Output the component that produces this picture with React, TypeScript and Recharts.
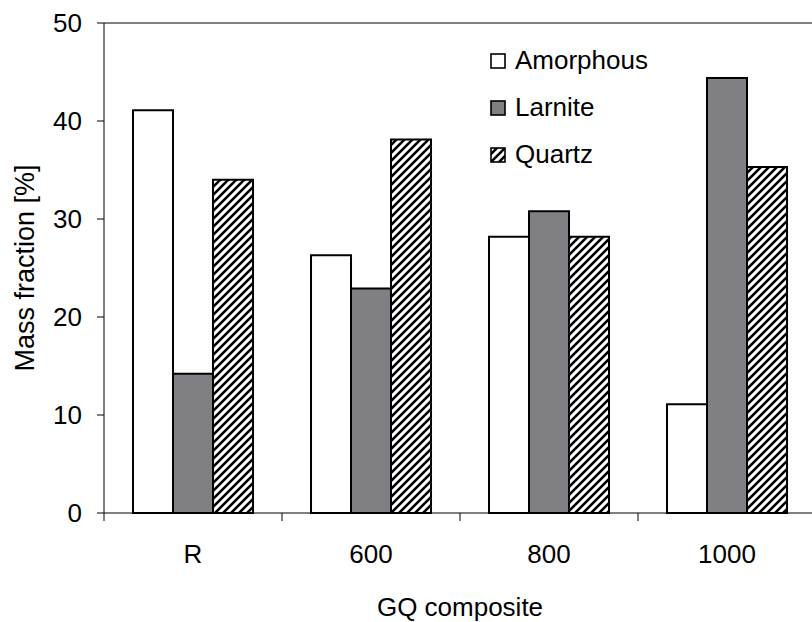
import React from "react";
import { Bar, BarChart, Label, Legend, ReferenceLine, XAxis, YAxis } from "recharts";

const categories = ["R", "600", "800", "1000"];
const amorphous = [41.1, 26.3, 28.2, 11.1];
const larnite = [14.2, 22.9, 30.8, 44.4];
const quartz = [34.0, 38.1, 28.2, 35.3];
const yTicks = [0, 10, 20, 30, 40, 50];

const FONT = "'Liberation Sans', Arial, sans-serif";

const series = [
  { key: "amorphous", name: "Amorphous", fill: "#ffffff" },
  { key: "larnite", name: "Larnite", fill: "#7f7f84" },
  { key: "quartz", name: "Quartz", fill: "url(#hatch)" },
];

const data = categories.map((c, i) => ({
  name: c,
  amorphous: amorphous[i],
  larnite: larnite[i],
  quartz: quartz[i],
}));

function HatchDefs() {
  return (
    <defs>
      <pattern id="hatch" patternUnits="userSpaceOnUse" width={8} height={8}>
        <rect width={8} height={8} fill="#fff" />
        <path d="M-2,2 L2,-2 M0,8 L8,0 M6,10 L10,6" stroke="#000" strokeWidth={2.6} />
      </pattern>
    </defs>
  );
}

// category label in the middle, tick mark on the left edge of each band
function CategoryTick(props: any) {
  const { x, y, payload, index, width } = props;
  const half = payload?.offset || width / categories.length / 2;
  const last = index === categories.length - 1;
  return (
    <g>
      <line x1={x - half} x2={x - half} y1={y} y2={y + 8} stroke="#000" />
      {last && <line x1={x + half} x2={x + half} y1={y} y2={y + 8} stroke="#000" />}
      <text x={x} y={y + 50} textAnchor="middle" fontSize={26} fontFamily={FONT} fill="#000">
        {payload.value}
      </text>
    </g>
  );
}

function LegendBox() {
  return (
    <div style={{ fontFamily: FONT, fontSize: 26, color: "#000" }}>
      {series.map((s) => (
        <div key={s.key} style={{ display: "flex", alignItems: "center", height: 47 }}>
          <svg width={16} height={16} style={{ marginRight: 9 }}>
            <rect x={1} y={1} width={14} height={14} fill={s.fill} stroke="#000" strokeWidth={1.6} />
          </svg>
          <span>{s.name}</span>
        </div>
      ))}
    </div>
  );
}

export default function App() {
  return (
    <div style={{ position: "absolute", left: 0, top: 0, width: 812, height: 622, overflow: "hidden", background: "#fff" }}>
      <BarChart
        width={830}
        height={622}
        data={data}
        margin={{ top: 23, right: 14, left: 0, bottom: 4 }}
        barCategoryGap="16.3%"
        barGap={0}
      >
        <HatchDefs />
        <XAxis
          dataKey="name"
          height={105}
          stroke="#000"
          tickLine={false}
          tickSize={0}
          tickMargin={0}
          tick={<CategoryTick />}
          interval={0}
        >
          <Label
            value="GQ composite"
            position="insideBottom"
            offset={2}
            style={{ fontSize: 26, fontFamily: FONT, fill: "#000" }}
          />
        </XAxis>
        <YAxis
          width={104}
          domain={[0, 50]}
          ticks={yTicks}
          stroke="#000"
          tickSize={7}
          tickMargin={15}
          tick={{ fontSize: 26, fontFamily: FONT, fill: "#000" }}
        >
          <Label
            value="Mass fraction [%]"
            angle={-90}
            position="insideLeft"
            offset={24}
            style={{ fontSize: 27, fontFamily: FONT, fill: "#000", textAnchor: "middle" }}
          />
        </YAxis>
        <ReferenceLine y={50} stroke="#808080" strokeWidth={2} />
        <Legend
          layout="vertical"
          align="center"
          verticalAlign="middle"
          content={() => <LegendBox />}
          wrapperStyle={{ left: 490, top: 37, width: "auto" }}
        />
        {series.map((s) => (
          <Bar
            key={s.key}
            dataKey={s.key}
            name={s.name}
            fill={s.fill}
            stroke="#000"
            strokeWidth={2}
            isAnimationActive={false}
          />
        ))}
      </BarChart>
    </div>
  );
}
